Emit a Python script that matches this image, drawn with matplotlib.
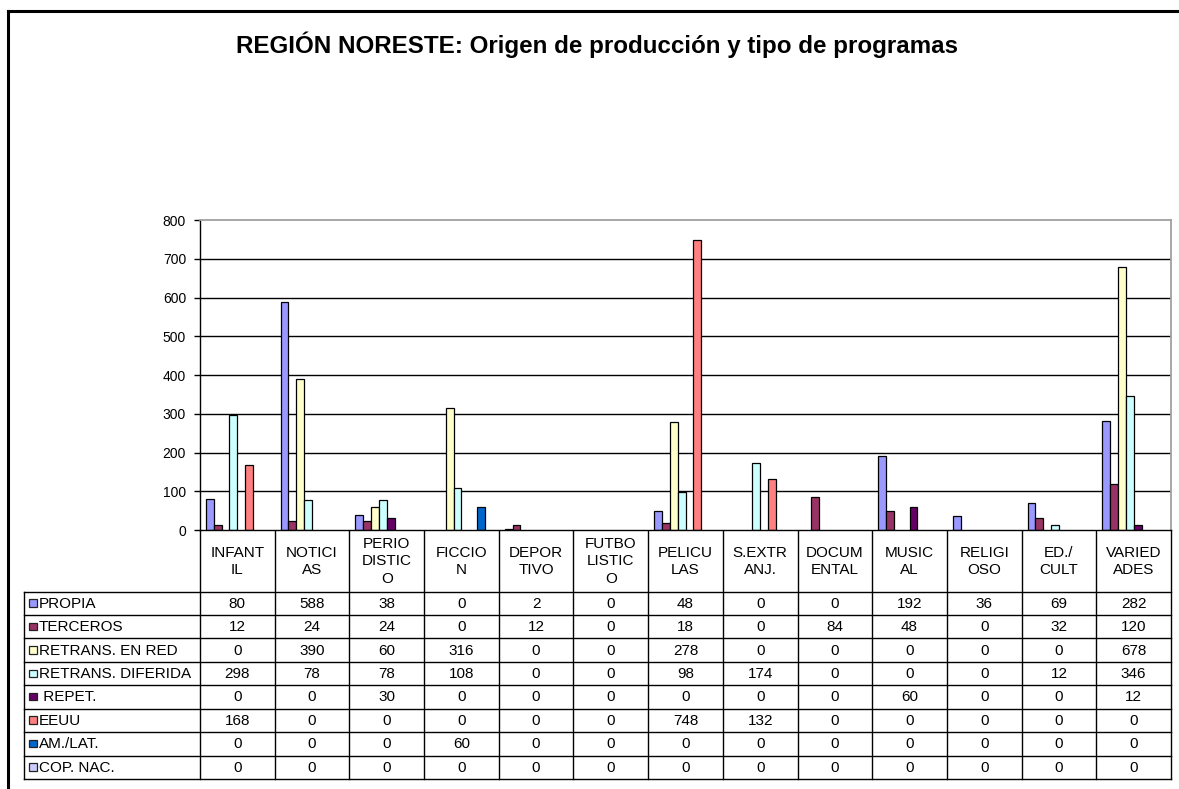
import numpy as np
import matplotlib.pyplot as plt

plt.rcParams['font.family'] = ['Liberation Sans', 'DejaVu Sans']

W, H = 1179, 789

categories = ['INFANT\nIL', 'NOTICI\nAS', 'PERIO\nDISTIC\nO', 'FICCIO\nN', 'DEPOR\nTIVO',
              'FUTBO\nLISTIC\nO', 'PELICU\nLAS', 'S.EXTR\nANJ.', 'DOCUM\nENTAL',
              'MUSIC\nAL', 'RELIGI\nOSO', 'ED./\nCULT', 'VARIED\nADES']

series_names = ['PROPIA', 'TERCEROS', 'RETRANS. EN RED', 'RETRANS. DIFERIDA',
                ' REPET.', 'EEUU', 'AM./LAT.', 'COP. NAC.']

propia = [80, 588, 38, 0, 2, 0, 48, 0, 0, 192, 36, 69, 282]
terceros = [12, 24, 24, 0, 12, 0, 18, 0, 84, 48, 0, 32, 120]
retrans_red = [0, 390, 60, 316, 0, 0, 278, 0, 0, 0, 0, 0, 678]
retrans_dif = [298, 78, 78, 108, 0, 0, 98, 174, 0, 0, 0, 12, 346]
repet = [0, 0, 30, 0, 0, 0, 0, 0, 0, 60, 0, 0, 12]
eeuu = [168, 0, 0, 0, 0, 0, 748, 132, 0, 0, 0, 0, 0]
am_lat = [0, 0, 0, 60, 0, 0, 0, 0, 0, 0, 0, 0, 0]
cop_nac = [0, 0, 0, 0, 0, 0, 0, 0, 0, 0, 0, 0, 0]

values = [propia, terceros, retrans_red, retrans_dif, repet, eeuu, am_lat, cop_nac]
colors = ['#9999FF', '#993366', '#FFFFCC', '#CCFFFF', '#660066', '#FF8080', '#0066CC', '#CCCCFF']


def box(x0, y0, x1, y1):
    # pixel box (top-left origin) -> figure fraction rect
    return [x0 / W, 1 - y1 / H, (x1 - x0) / W, (y1 - y0) / H]


fig = plt.figure(figsize=(W / 100, H / 100), dpi=100)

# background layer in pixel coordinates: frame, title, data table
bg = fig.add_axes([0, 0, 1, 1])
bg.set_xlim(0, W)
bg.set_ylim(H, 0)
bg.axis('off')

bg.plot([8, 8], [H + 5, 11], color='black', lw=2.2)
bg.plot([8, W + 5], [11, 11], color='black', lw=2.2)

bg.text(597, 45, 'REGIÓN NORESTE: Origen de producción y tipo de programas',
        ha='center', va='center', fontsize=17.4, fontweight='bold')

# chart area
left, right, top, bottom = 200, 1171, 220, 530
ncat = len(categories)
colw = (right - left) / ncat

ax = fig.add_axes(box(left, top, right, bottom))
ax.set_xlim(0, ncat)
ax.set_ylim(0, 800)
ax.set_yticks(np.arange(0, 801, 100))
ax.set_xticks(np.arange(0, ncat + 1))
ax.tick_params(axis='x', length=0, labelbottom=False)
ax.tick_params(axis='y', length=4, width=1, labelsize=10, pad=6, direction='out')
for y in range(100, 800, 100):
    ax.axhline(y, color='black', lw=1.0, zorder=0.5)
ax.spines['top'].set_color('#a0a0a0')
ax.spines['right'].set_color('#a0a0a0')
ax.spines['top'].set_linewidth(1.3)
ax.spines['right'].set_linewidth(1.3)
ax.spines['left'].set_linewidth(1.0)
ax.spines['bottom'].set_linewidth(1.0)

bw = 1 / 9.5
for j, (vals, c) in enumerate(zip(values, colors)):
    vals = np.array(vals, dtype=float)
    idx = np.nonzero(vals)[0]
    ax.bar(idx + 0.75 * bw + j * bw, vals[idx], width=bw, align='edge',
           color=c, edgecolor='black', linewidth=0.9, zorder=2)

# data table under the chart
tab_left = 24
head_bot = 591.5
row_h = (779 - head_bot) / len(series_names)
tab_bot = head_bot + row_h * len(series_names)
lw = 1.0

xs = [left + i * colw for i in range(ncat + 1)]
for i, x in enumerate(xs):
    bg.plot([x, x], [bottom, tab_bot], color='black', lw=lw)
bg.plot([tab_left, tab_left], [head_bot, tab_bot], color='black', lw=lw)
for r in range(len(series_names) + 1):
    y = head_bot + r * row_h
    bg.plot([tab_left, right], [y, y], color='black', lw=lw)

for i, cat in enumerate(categories):
    bg.text(xs[i] + colw / 2, (bottom + head_bot) / 2 + 0.5, cat, ha='center', va='center',
            fontsize=11, linespacing=1.3)

for r, (name, vals, c) in enumerate(zip(series_names, values, colors)):
    yc = head_bot + (r + 0.5) * row_h
    bg.add_patch(plt.Rectangle((29, yc - 4), 7.5, 7.5, facecolor=c, edgecolor='#222222', lw=0.9))
    bg.text(39, yc + 0.5, name, ha='left', va='center', fontsize=11)
    for i, v in enumerate(vals):
        bg.text(xs[i] + colw / 2, yc + 0.5, str(v), ha='center', va='center', fontsize=11)

fig.savefig('out.png', dpi=100)
